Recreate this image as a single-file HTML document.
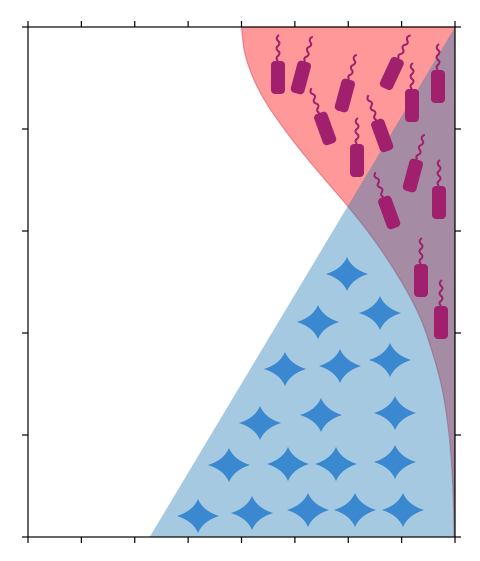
<!DOCTYPE html>
<html><head><meta charset="utf-8"><style>
html,body{margin:0;padding:0;background:#fff;width:480px;height:561px;overflow:hidden}
svg{display:block;font-family:"Liberation Sans",sans-serif}
</style></head><body>
<svg id="chart" width="480" height="561" viewBox="0 0 480 561"></svg>
<script>
// data
const blueX = [2.28, 8, 8];
const blueY = [0, 5, 0];
const redY = [0, 0.5, 1.0, 1.5, 2.0, 2.25, 2.5, 2.75, 3.0, 3.25, 3.5, 3.75, 4.0, 4.25, 4.5, 4.75, 5];
const redX = [7.985, 7.96, 7.89, 7.74, 7.46, 7.26, 7.00, 6.70, 6.36, 5.98, 5.57, 5.17, 4.80, 4.47, 4.22, 4.06, 4.0];
const xTicks = [0,1,2,3,4,5,6,7,8];
const yTicks = [0,1,2,3,4,5];

const L=28,R=455,T=27,B=537;
const sx=v=>L+(v-0)/(8-0)*(R-L);
const sy=v=>B-(v-0)/(5-0)*(B-T);
const NS='http://www.w3.org/2000/svg';
const svg=document.getElementById('chart');
function mk(tag,attrs,parent){const e=document.createElementNS(NS,tag);for(const k in attrs)e.setAttribute(k,attrs[k]);(parent||svg).appendChild(e);return e;}

// red area (between curve and x=8)
const pts=redX.map((x,i)=>[sx(x),sy(redY[i])]);
let d='M'+pts[0][0]+' '+pts[0][1];
for(let i=0;i<pts.length-1;i++){
  const p0=pts[Math.max(0,i-1)],p1=pts[i],p2=pts[i+1],p3=pts[Math.min(pts.length-1,i+2)];
  const c1=[p1[0]+(p2[0]-p0[0])/6,p1[1]+(p2[1]-p0[1])/6];
  const c2=[p2[0]-(p3[0]-p1[0])/6,p2[1]-(p3[1]-p1[1])/6];
  d+=` C${c1[0]} ${c1[1]} ${c2[0]} ${c2[1]} ${p2[0]} ${p2[1]}`;
}
d+=` L${sx(8)} ${sy(5)} Z`;
const red=mk('path',{d:d,fill:'#ff0000','fill-opacity':0.4,stroke:'#e05060','stroke-opacity':0.6,'stroke-width':1.2});



// blue area
let bp=blueX.map((x,i)=>sx(x)+','+sy(blueY[i])).join(' ');
const blue=mk('polygon',{points:bp,fill:'#1f77b4','fill-opacity':0.4});



// stars
const stars=[[198,516],[252,513],[308,510],[355,510],[403,510],[229,465],[288,464],[336,464],[395,462],[260,423],[321,415],[395,413],[285,369],[340,366],[390,360],[318,322],[380,313],[347,274]];
const sg=mk('g',{});


stars.forEach(([x,y])=>{
  const s=mk('path',{d:`M${x} ${y-17} Q${x+5} ${y-5} ${x+21} ${y} Q${x+5} ${y+5} ${x} ${y+17} Q${x-5} ${y+5} ${x-21} ${y} Q${x-5} ${y-5} ${x} ${y-17}Z`,fill:'#3a88d0'},sg);
  
  
});

// firecrackers
const fc=[[278,77,0],[301,77,15],[345,95,15],[325,128,-20],[357,160,0],[382,135,-20],[392,73,25],[412,105,0],[438,86,0],[413,175,15],[389,212,-20],[439,202,0],[421,280,0],[441,322,0]];
const fg=mk('g',{});


fc.forEach(([x,y,a])=>{
  const g=mk('g',{transform:`translate(${x},${y}) rotate(${a})`},fg);
  
  
  mk('rect',{x:-7,y:-16,width:14,height:33,rx:4,fill:'#a0206e'},g);
  mk('path',{d:'M0 -16 q-3 -3 0 -5 q3 -3 0 -5 q-3 -3 0 -5 q3 -3 0 -5 q-3 -3 1 -6',fill:'none',stroke:'#a0206e','stroke-width':2},g);
});

// frame and ticks
const ax=mk('g',{stroke:'#000','stroke-width':1.2});


mk('rect',{x:L,y:T,width:R-L,height:B-T,fill:'none'},ax);
xTicks.forEach(v=>{
  const t1=mk('line',{x1:sx(v),x2:sx(v),y1:B,y2:B+6},ax);
  
  
  const t2=mk('line',{x1:sx(v),x2:sx(v),y1:T,y2:T-6},ax);
  
  
});
yTicks.forEach(v=>{
  const t1=mk('line',{x1:L,x2:L-6,y1:sy(v),y2:sy(v)},ax);
  
  
  const t2=mk('line',{x1:R,x2:R+6,y1:sy(v),y2:sy(v)},ax);
  
  
});
</script>
</body></html>
